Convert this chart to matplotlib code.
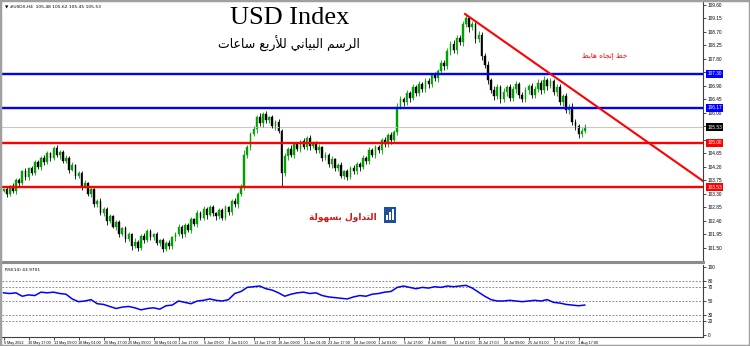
"""
USD Index H4 chart with support / resistance levels and RSI panel
"""

import matplotlib
matplotlib.use('Agg')
import matplotlib.pyplot as plt
import matplotlib.transforms as mtransforms
from matplotlib.patches import Rectangle
import numpy as np

# ---- data ----
closes = [
    103.45, 103.30, 103.55, 103.40, 103.75, 103.65, 104.05, 103.85, 104.15, 104.00,
    104.35, 104.20, 104.50, 104.35, 104.65, 104.50, 104.82, 104.60, 104.70, 104.40,
    104.50, 104.10, 104.25, 103.90, 104.00, 103.55, 103.65, 103.30, 103.45, 102.95,
    103.05, 102.65, 102.80, 102.40, 102.55, 102.20, 102.35, 101.95, 102.15, 101.80,
    101.95, 101.55, 101.70, 101.50, 101.90, 101.75, 102.05, 101.85, 101.95, 101.65,
    101.75, 101.45, 101.65, 101.55, 101.85, 101.95, 102.20, 101.95, 102.25, 102.10,
    102.45, 102.30, 102.65, 102.50, 102.80, 102.60, 102.85, 102.65, 102.55, 102.75,
    102.50, 102.85, 102.70, 103.05, 102.95, 103.30, 103.55, 104.60, 104.85, 105.30,
    105.45, 105.85, 105.65, 105.95, 105.75, 105.85, 105.55, 105.70, 105.40, 104.00,
    104.55, 104.80, 104.60, 104.95, 104.80, 105.05, 104.85, 105.15, 104.90, 105.00,
    104.75, 104.85, 104.50, 104.60, 104.30, 104.45, 104.15, 104.25, 103.90, 104.05,
    103.85, 104.15, 104.05, 104.30, 104.20, 104.50, 104.40, 104.75, 104.60, 104.85,
    104.75, 105.10, 104.95, 105.25, 105.10, 105.35, 106.20, 106.45, 106.35, 106.65,
    106.50, 106.85, 106.65, 106.95, 106.80, 107.05, 106.95, 107.25, 107.15, 107.40,
    107.65, 107.55, 108.05, 108.30, 108.10, 108.50, 108.35, 108.95, 109.15, 108.85,
    108.95, 108.45, 108.60, 107.90, 107.60, 107.10, 106.75, 106.55, 106.85, 106.45,
    106.70, 106.85, 106.50, 106.80, 106.95, 106.60, 106.45, 106.75, 106.90, 106.60,
    106.80, 107.00, 106.75, 107.10, 106.90, 107.05, 106.70, 106.85, 106.35, 106.55,
    106.10, 106.20, 105.70, 105.55, 105.30, 105.40, 105.53,
]
first_open = 103.40

# wick lengths above / below the body, in hundredths
wick_up = [
    6, 8, 5, 10, 7, 9, 6, 12, 5, 8,
    7, 10, 6, 9, 8, 5, 7, 11, 6, 8,
    9, 6, 10, 5, 8, 7, 12, 6, 9, 5,
    8, 11, 6, 7, 9, 5, 10, 8, 6, 9,
    7, 5, 12, 8, 6, 10, 7, 9, 5, 8,
    6, 9, 7, 11, 5, 8, 10, 6, 9, 7,
    8, 5, 12, 7, 9, 6, 10, 8, 5, 9,
    7, 10, 6, 8, 11, 5, 9, 15, 10, 8,
    12, 9, 14, 7, 10, 6, 9, 8, 11, 7,
    10, 6, 12, 8, 9, 5, 11, 7, 10, 6,
    8, 12, 6, 9, 7, 10, 5, 8, 11, 6,
    9, 7, 12, 5, 8, 10, 6, 11, 7, 9,
    8, 6, 10, 7, 12, 9, 14, 10, 8, 12,
    9, 11, 7, 13, 8, 10, 12, 9, 11, 8,
    13, 10, 12, 9, 14, 11, 10, 12, 12, 9,
    11, 8, 13, 10, 9, 12, 8, 14, 10, 9,
    12, 8, 11, 9, 13, 7, 10, 12, 8, 11,
    9, 13, 10, 12, 8, 11, 9, 10, 13, 8,
    11, 9, 12, 10, 8, 11, 9,
]
wick_dn = [
    5, 9, 7, 6, 10, 8, 5, 9, 7, 6,
    8, 6, 10, 7, 5, 9, 6, 8, 12, 7,
    6, 10, 5, 9, 7, 11, 6, 8, 10, 7,
    9, 6, 8, 12, 7, 5, 10, 9, 6, 11,
    8, 12, 6, 9, 7, 10, 5, 8, 9, 6,
    10, 8, 6, 9, 7, 11, 5, 12, 8, 6,
    9, 7, 10, 6, 8, 12, 5, 9, 11, 7,
    8, 6, 10, 9, 7, 11, 8, 12, 9, 10,
    7, 11, 8, 12, 9, 10, 6, 11, 8, 45,
    9, 12, 7, 10, 8, 11, 6, 9, 12, 7,
    10, 8, 11, 6, 9, 12, 7, 10, 8, 11,
    9, 6, 10, 8, 12, 7, 9, 11, 6, 10,
    8, 11, 7, 9, 12, 6, 10, 8, 11, 9,
    12, 8, 10, 7, 11, 9, 13, 8, 10, 12,
    9, 11, 8, 13, 10, 12, 9, 11, 8, 14,
    10, 12, 9, 13, 11, 15, 10, 12, 9, 11,
    8, 12, 10, 9, 13, 11, 8, 10, 12, 9,
    11, 9, 13, 10, 12, 8, 11, 14, 9, 12,
    10, 13, 9, 11, 12, 10, 8,
]

# RSI(14), one value every second bar
rsi_values = [
    62, 61, 62, 57, 59, 58, 63, 62, 63, 61,
    60, 53, 49, 50, 52, 46, 45, 42, 39, 41,
    42, 40, 37, 39, 40, 38, 43, 44, 50, 48,
    46, 50, 51, 53, 51, 50, 52, 61, 64, 70,
    71, 72, 68, 66, 62, 57, 60, 62, 63, 61,
    62, 58, 56, 55, 54, 53, 56, 58, 57, 60,
    61, 63, 64, 70, 72, 70, 68, 70, 69, 71,
    70, 72, 71, 72, 73, 69, 63, 57, 52, 50,
    50, 51, 50, 49, 50, 51, 50, 52, 48, 47,
    45, 44, 43, 44,
]

blue_levels = [107.30, 106.17]
red_levels = [105.00, 103.53]
last_price = 105.53
trend_x = [147.7, 223.9]
trend_y = [109.30, 103.73]

price_ticks = [101.50, 101.95, 102.40, 102.85, 103.30, 103.75, 104.20, 104.65,
               105.10, 105.55, 106.00, 106.45, 106.90, 107.35, 107.80, 108.25,
               108.70, 109.15, 109.60]
rsi_ticks = [0, 20, 30, 50, 70, 80, 100]
rsi_levels = [20, 30, 50, 70, 80]

date_labels = ['6 May 2022', '10 May 17:00', '13 May 09:00', '18 May 01:00', '20 May 17:00',
               '25 May 09:00', '30 May 01:00', '1 Jun 17:00', '6 Jun 09:00', '9 Jun 01:00',
               '13 Jun 17:00', '16 Jun 09:00', '21 Jun 01:00', '23 Jun 17:00', '28 Jun 09:00',
               '1 Jul 01:00', '5 Jul 17:00', '8 Jul 09:00', '13 Jul 01:00', '15 Jul 17:00',
               '20 Jul 09:00', '25 Jul 01:00', '27 Jul 17:00', '1 Aug 17:00']
date_pos = [0, 8, 16, 24, 32, 40, 48, 56, 64, 72, 80, 88, 96, 104, 112, 120,
            128, 136, 144, 152, 160, 168, 176, 184]

title = 'USD Index'
subtitle = 'الرسم البياني للأربع ساعات'
trend_note = 'خط إتجاه هابط'
logo_text = 'التداول بسهولة'
info_text = '▼ #USDX,H4  105.48 105.62 105.45 105.53'
rsi_text = 'RSI(14) 43.9701'


# ---- tiny Arabic shaper (presentation forms + visual order) ----
FORMS = {
    'ا': ('\uFE8D', '\uFE8E', None, None),
    'أ': ('\uFE83', '\uFE84', None, None),
    'إ': ('\uFE87', '\uFE88', None, None),
    'ب': ('\uFE8F', '\uFE90', '\uFE91', '\uFE92'),
    'ت': ('\uFE95', '\uFE96', '\uFE97', '\uFE98'),
    'ج': ('\uFE9D', '\uFE9E', '\uFE9F', '\uFEA0'),
    'خ': ('\uFEA5', '\uFEA6', '\uFEA7', '\uFEA8'),
    'د': ('\uFEA9', '\uFEAA', None, None),
    'ر': ('\uFEAD', '\uFEAE', None, None),
    'س': ('\uFEB1', '\uFEB2', '\uFEB3', '\uFEB4'),
    'ط': ('\uFEC1', '\uFEC2', '\uFEC3', '\uFEC4'),
    'ع': ('\uFEC9', '\uFECA', '\uFECB', '\uFECC'),
    'ل': ('\uFEDD', '\uFEDE', '\uFEDF', '\uFEE0'),
    'م': ('\uFEE1', '\uFEE2', '\uFEE3', '\uFEE4'),
    'ن': ('\uFEE5', '\uFEE6', '\uFEE7', '\uFEE8'),
    'ه': ('\uFEE9', '\uFEEA', '\uFEEB', '\uFEEC'),
    'و': ('\uFEED', '\uFEEE', None, None),
    'ي': ('\uFEF1', '\uFEF2', '\uFEF3', '\uFEF4'),
    'ة': ('\uFE93', '\uFE94', None, None),
    '\uFEFB': ('\uFEFB', '\uFEFC', None, None),
    '\uFEF7': ('\uFEF7', '\uFEF8', None, None),
    '\uFEF9': ('\uFEF9', '\uFEFA', None, None),
}


def shape(text):
    text = text.replace('لا', '\uFEFB').replace('لأ', '\uFEF7').replace('لإ', '\uFEF9')
    chars = list(text)
    out = []
    for i, ch in enumerate(chars):
        if ch not in FORMS:
            out.append(ch)
            continue
        f = FORMS[ch]
        prev = chars[i - 1] if i > 0 else None
        nxt = chars[i + 1] if i + 1 < len(chars) else None
        jp = prev in FORMS and FORMS[prev][2] is not None
        jn = f[2] is not None and nxt in FORMS
        if jp and jn:
            out.append(f[3])
        elif jp:
            out.append(f[1])
        elif jn:
            out.append(f[2])
        else:
            out.append(f[0])
    return ''.join(reversed(out))


# ---- figure layout (pixel based) ----
W, H = 750, 346
fig = plt.figure(figsize=(W / 100, H / 100), dpi=100)
fig.patch.set_facecolor('white')

left_px, right_px = 2, 703
ax = fig.add_axes([left_px / W, 1 - 262 / H, (right_px - left_px) / W, 260 / H])
ax_rsi = fig.add_axes([left_px / W, 1 - 337 / H, (right_px - left_px) / W, 72 / H])

xlim = ((left_px - 3.5) / 3.125, (right_px - 3.5) / 3.125)
small = dict(family='Liberation Sans')

# ---- candles ----
n = len(closes)
x = np.arange(n)
opens = [first_open] + closes[:-1]
for i in range(n):
    o, c = opens[i], closes[i]
    up = c >= o
    col = '#00a000' if up else '#000000'
    hi = max(o, c) + wick_up[i] / 100
    lo = min(o, c) - wick_dn[i] / 100
    ax.vlines(x[i], lo, hi, color=col, linewidth=0.6)
    ax.bar(x[i], max(abs(c - o), 0.02), bottom=min(o, c), width=0.55,
           color=col, edgecolor=col, linewidth=0.3)

# horizontal levels
for lv in blue_levels:
    ax.axhline(lv, color='#0000ff', linewidth=1.7, zorder=3)
for lv in red_levels:
    ax.axhline(lv, color='#ff0000', linewidth=1.7, zorder=3)
ax.axhline(last_price, color='#c8c8c8', linewidth=0.8, zorder=1)

# trend line
ax.plot(trend_x, trend_y, color='#ff0000', linewidth=1.5, zorder=4)

ax.set_xlim(*xlim)
ax.set_ylim(109.6 - 257 / 30, 109.6 + 3 / 30)
ax.yaxis.tick_right()
ax.set_yticks(price_ticks)
# labels hidden behind the price boxes are left blank
boxed = blue_levels + red_levels + [last_price]
ax.set_yticklabels(['' if min(abs(t - b) for b in boxed) < 0.12 else f'{t:.2f}'
                    for t in price_ticks], **small)
ax.tick_params(axis='y', labelsize=3.4, length=2, width=0.5, pad=1.5, colors='#000000')
ax.set_xticks([])
for s in ['top', 'left']:
    ax.spines[s].set_visible(False)
ax.spines['right'].set_color('#404040')
ax.spines['right'].set_linewidth(0.8)
ax.spines['bottom'].set_color('#8c8c8c')
ax.spines['bottom'].set_linewidth(2.2)

# price boxes on the right axis
trans = mtransforms.blended_transform_factory(ax.transAxes, ax.transData)
for lv, bg in [(blue_levels[0], '#0000ff'), (blue_levels[1], '#0000ff'),
               (red_levels[0], '#ff0000'), (red_levels[1], '#ff0000'),
               (last_price, '#000000')]:
    ax.text(1.006, lv, f'{lv:.2f}', transform=trans, fontsize=3.4, color='white',
            va='center', ha='left', clip_on=False, zorder=6, family='Liberation Sans',
            bbox=dict(boxstyle='square,pad=0.25', fc=bg, ec='none'))

# titles
ax.text(0.41, 0.94, title, transform=ax.transAxes, ha='center', va='center',
        fontsize=19, family='Liberation Serif', color='#000000')
ax.text(0.41, 0.84, shape(subtitle), transform=ax.transAxes, ha='center', va='center',
        fontsize=9, family='DejaVu Sans', color='#000000')
ax.text(0.86, 0.795, shape(trend_note), transform=ax.transAxes, ha='center', va='center',
        fontsize=5.2, family='DejaVu Sans', color='#ff0000')
ax.text(0.004, 0.992, info_text, transform=ax.transAxes, ha='left', va='top',
        fontsize=3.2, color='#000000')

# logo
ax.text(0.535, 0.17, shape(logo_text), transform=ax.transAxes, ha='right', va='center',
        fontsize=6.5, family='DejaVu Sans', color='#d01818', fontweight='bold')
ax.add_patch(Rectangle((0.545, 0.15), 0.017, 0.062, transform=ax.transAxes,
                       facecolor='#1f4e9c', edgecolor='none', zorder=5))
for k, hgt in enumerate([0.02, 0.032, 0.044]):
    ax.add_patch(Rectangle((0.548 + k * 0.0045, 0.16), 0.0025, hgt, transform=ax.transAxes,
                           facecolor='white', edgecolor='none', zorder=6))

# ---- RSI panel ----
rsi_x = np.arange(0, 2 * len(rsi_values), 2)
for lv in rsi_levels:
    ax_rsi.axhline(lv, color='#707070', linewidth=0.6, linestyle=(0, (2, 2)))
ax_rsi.plot(rsi_x, rsi_values, color='#0000ff', linewidth=1.1)
ax_rsi.set_xlim(*xlim)
ax_rsi.set_ylim(-2.9, 102.9)
ax_rsi.yaxis.tick_right()
ax_rsi.set_yticks(rsi_ticks)
ax_rsi.set_yticklabels([str(t) for t in rsi_ticks], **small)
ax_rsi.tick_params(axis='y', labelsize=3.4, length=2, width=0.5, pad=1.5)
ax_rsi.set_xticks(date_pos)
ax_rsi.set_xticklabels(date_labels, ha='left', **small)
ax_rsi.tick_params(axis='x', labelsize=2.7, length=2, width=0.5, pad=1)
for s in ['top', 'left']:
    ax_rsi.spines[s].set_visible(False)
ax_rsi.spines['right'].set_color('#404040')
ax_rsi.spines['right'].set_linewidth(0.8)
ax_rsi.spines['bottom'].set_color('#404040')
ax_rsi.spines['bottom'].set_linewidth(0.8)
ax_rsi.text(0.004, 0.96, rsi_text, transform=ax_rsi.transAxes, ha='left', va='top',
            fontsize=3.2, color='#000000')

# window frame
fig.patches.append(Rectangle((0, 0), 1, 1, transform=fig.transFigure, fill=False,
                             edgecolor='#a0a0a0', linewidth=2.5))

fig.savefig('out.png', dpi=100)
